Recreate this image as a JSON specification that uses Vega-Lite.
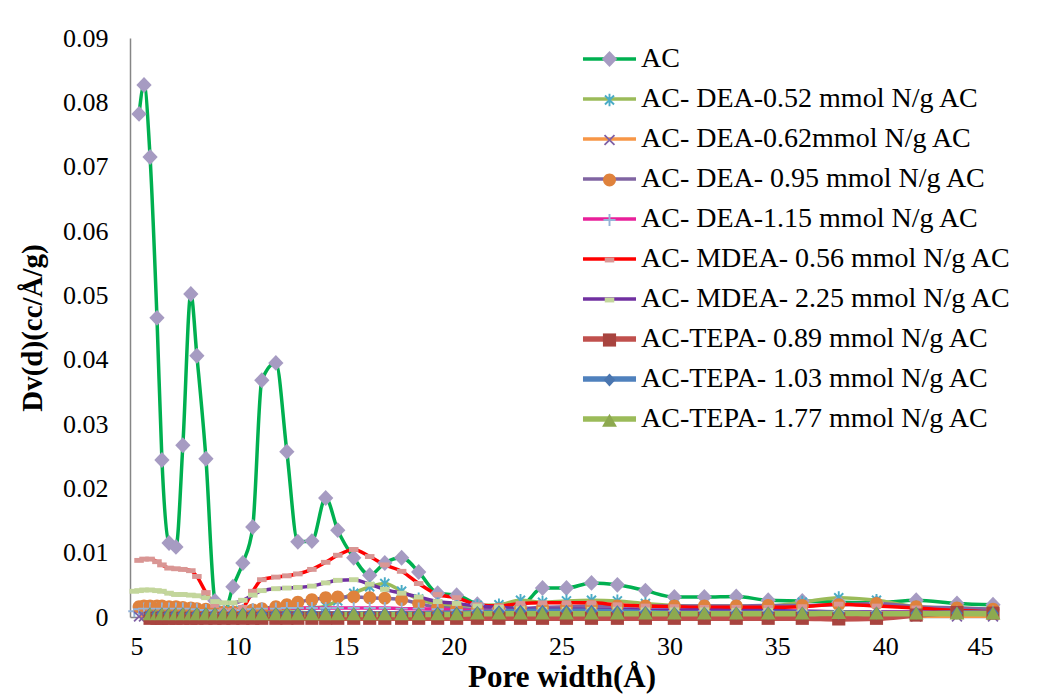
{
  "$schema": "https://vega.github.io/schema/vega-lite/v6.json",
  "width": 863,
  "height": 579,
  "autosize": {"type": "none"},
  "padding": {"left": 130, "top": 38, "right": 44, "bottom": 78},
  "background": "white",
  "config": {"view": {"stroke": null}, "font": "Liberation Serif"},
  "data": {
    "values": [
      {"w": 5.2, "AC": null, "D052": null, "D062": null, "D095": null, "D115": 0.0009, "M056": null, "M225": 0.0040, "T089": null, "T103": null, "T177": null},
      {"w": 5.42, "AC": 0.0782, "D052": 0.0012, "D062": 0.0001, "D095": 0.0016, "D115": 0.0012, "M056": 0.0088, "M225": 0.0041, "T089": null, "T103": null, "T177": null},
      {"w": 5.65, "AC": 0.0827, "D052": 0.0012, "D062": 0.0001, "D095": 0.0017, "D115": 0.0013, "M056": 0.0090, "M225": 0.0042, "T089": null, "T103": null, "T177": null},
      {"w": 5.93, "AC": 0.0715, "D052": 0.0012, "D062": 0.0001, "D095": 0.0017, "D115": 0.0013, "M056": 0.0090, "M225": 0.0042, "T089": -0.0002, "T103": 0.0005, "T177": 0.0004},
      {"w": 6.25, "AC": 0.0465, "D052": 0.0012, "D062": 0.0001, "D095": 0.0017, "D115": 0.0013, "M056": 0.0086, "M225": 0.0041, "T089": -0.0002, "T103": 0.0005, "T177": 0.0004},
      {"w": 6.48, "AC": 0.0244, "D052": 0.0012, "D062": 0.0001, "D095": 0.0017, "D115": 0.0013, "M056": 0.0081, "M225": 0.0040, "T089": -0.0002, "T103": 0.0005, "T177": 0.0004},
      {"w": 6.81, "AC": 0.0115, "D052": 0.0012, "D062": 0.0001, "D095": 0.0016, "D115": 0.0013, "M056": 0.0076, "M225": 0.0037, "T089": -0.0002, "T103": 0.0005, "T177": 0.0004},
      {"w": 7.13, "AC": 0.0109, "D052": 0.0012, "D062": 0.0001, "D095": 0.0016, "D115": 0.0013, "M056": 0.0075, "M225": 0.0035, "T089": -0.0002, "T103": 0.0005, "T177": 0.0004},
      {"w": 7.45, "AC": 0.0267, "D052": 0.0012, "D062": 0.0001, "D095": 0.0015, "D115": 0.0013, "M056": 0.0074, "M225": 0.0035, "T089": -0.0002, "T103": 0.0005, "T177": 0.0004},
      {"w": 7.82, "AC": 0.0502, "D052": 0.0012, "D062": 0.0001, "D095": 0.0014, "D115": 0.0013, "M056": 0.0072, "M225": 0.0034, "T089": -0.0002, "T103": 0.0005, "T177": 0.0004},
      {"w": 8.10, "AC": 0.0406, "D052": 0.0012, "D062": 0.0001, "D095": 0.0013, "D115": 0.0012, "M056": 0.0063, "M225": 0.0033, "T089": -0.0002, "T103": 0.0005, "T177": 0.0004},
      {"w": 8.52, "AC": 0.0246, "D052": 0.0011, "D062": 0.0001, "D095": 0.0012, "D115": 0.0011, "M056": 0.0038, "M225": 0.0030, "T089": -0.0002, "T103": 0.0005, "T177": 0.0004},
      {"w": 8.94, "AC": 0.0025, "D052": 0.0010, "D062": 0.0001, "D095": 0.0010, "D115": 0.0010, "M056": 0.0018, "M225": 0.0024, "T089": -0.0002, "T103": 0.0005, "T177": 0.0004},
      {"w": 9.35, "AC": 0.0006, "D052": 0.0010, "D062": 0.0001, "D095": 0.0008, "D115": 0.0010, "M056": 0.0010, "M225": 0.0022, "T089": -0.0002, "T103": 0.0005, "T177": 0.0004},
      {"w": 9.77, "AC": 0.0047, "D052": 0.0010, "D062": 0.0001, "D095": 0.0008, "D115": 0.0010, "M056": 0.0010, "M225": 0.0022, "T089": -0.0002, "T103": 0.0005, "T177": 0.0004},
      {"w": 10.23, "AC": 0.0084, "D052": 0.0010, "D062": 0.0001, "D095": 0.0009, "D115": 0.0011, "M056": 0.0015, "M225": 0.0026, "T089": -0.0002, "T103": 0.0005, "T177": 0.0004},
      {"w": 10.69, "AC": 0.0140, "D052": 0.0011, "D062": 0.0001, "D095": 0.0011, "D115": 0.0012, "M056": 0.0040, "M225": 0.0034, "T089": -0.0002, "T103": 0.0005, "T177": 0.0004},
      {"w": 11.11, "AC": 0.0368, "D052": 0.0011, "D062": 0.0001, "D095": 0.0013, "D115": 0.0013, "M056": 0.0058, "M225": 0.0041, "T089": -0.0002, "T103": 0.0005, "T177": 0.0004},
      {"w": 11.76, "AC": 0.0395, "D052": 0.0012, "D062": 0.0001, "D095": 0.0016, "D115": 0.0013, "M056": 0.0062, "M225": 0.0044, "T089": -0.0002, "T103": 0.0005, "T177": 0.0004},
      {"w": 12.27, "AC": 0.0257, "D052": 0.0012, "D062": 0.0001, "D095": 0.0019, "D115": 0.0014, "M056": 0.0064, "M225": 0.0045, "T089": -0.0002, "T103": 0.0005, "T177": 0.0004},
      {"w": 12.78, "AC": 0.0117, "D052": 0.0013, "D062": 0.0001, "D095": 0.0023, "D115": 0.0014, "M056": 0.0067, "M225": 0.0046, "T089": -0.0002, "T103": 0.0005, "T177": 0.0004},
      {"w": 13.43, "AC": 0.0118, "D052": 0.0014, "D062": 0.0001, "D095": 0.0027, "D115": 0.0014, "M056": 0.0074, "M225": 0.0048, "T089": -0.0002, "T103": 0.0005, "T177": 0.0004},
      {"w": 14.07, "AC": 0.0185, "D052": 0.0017, "D062": 0.0001, "D095": 0.0030, "D115": 0.0014, "M056": 0.0085, "M225": 0.0053, "T089": -0.0002, "T103": 0.0005, "T177": 0.0004},
      {"w": 14.63, "AC": 0.0135, "D052": 0.0025, "D062": 0.0001, "D095": 0.0031, "D115": 0.0014, "M056": 0.0096, "M225": 0.0057, "T089": -0.0002, "T103": 0.0005, "T177": 0.0004},
      {"w": 15.37, "AC": 0.0092, "D052": 0.0037, "D062": 0.0001, "D095": 0.0031, "D115": 0.0014, "M056": 0.0105, "M225": 0.0058, "T089": -0.0002, "T103": 0.0005, "T177": 0.0004},
      {"w": 16.11, "AC": 0.0065, "D052": 0.0047, "D062": 0.0001, "D095": 0.0030, "D115": 0.0014, "M056": 0.0094, "M225": 0.0051, "T089": -0.0002, "T103": 0.0005, "T177": 0.0004},
      {"w": 16.81, "AC": 0.0084, "D052": 0.0052, "D062": 0.0001, "D095": 0.0029, "D115": 0.0014, "M056": 0.0081, "M225": 0.0043, "T089": -0.0002, "T103": 0.0005, "T177": 0.0004},
      {"w": 17.59, "AC": 0.0092, "D052": 0.0040, "D062": 0.0001, "D095": 0.0027, "D115": 0.0013, "M056": 0.0071, "M225": 0.0037, "T089": -0.0002, "T103": 0.0005, "T177": 0.0004},
      {"w": 18.38, "AC": 0.0070, "D052": 0.0028, "D062": 0.0001, "D095": 0.0021, "D115": 0.0013, "M056": 0.0052, "M225": 0.0031, "T089": -0.0002, "T103": 0.0005, "T177": 0.0004},
      {"w": 19.26, "AC": 0.0037, "D052": 0.0020, "D062": 0.0001, "D095": 0.0015, "D115": 0.0012, "M056": 0.0035, "M225": 0.0024, "T089": -0.0002, "T103": 0.0006, "T177": 0.0004},
      {"w": 20.14, "AC": 0.0034, "D052": 0.0017, "D062": 0.0001, "D095": 0.0013, "D115": 0.0011, "M056": 0.0030, "M225": 0.0021, "T089": -0.0002, "T103": 0.0006, "T177": 0.0004},
      {"w": 21.1, "AC": 0.0020, "D052": 0.0018, "D062": 0.0001, "D095": 0.0012, "D115": 0.0010, "M056": 0.0019, "M225": 0.0017, "T089": -0.0002, "T103": 0.0007, "T177": 0.0005},
      {"w": 22.1, "AC": 0.0013, "D052": 0.0019, "D062": 0.0001, "D095": 0.0012, "D115": 0.0010, "M056": 0.0017, "M225": 0.0015, "T089": -0.0002, "T103": 0.0008, "T177": 0.0005},
      {"w": 23.1, "AC": 0.0016, "D052": 0.0026, "D062": 0.0001, "D095": 0.0013, "D115": 0.0010, "M056": 0.0021, "M225": 0.0013, "T089": -0.0002, "T103": 0.0009, "T177": 0.0005},
      {"w": 24.12, "AC": 0.0045, "D052": 0.0023, "D062": 0.0001, "D095": 0.0015, "D115": 0.0010, "M056": 0.0022, "M225": 0.0012, "T089": -0.0002, "T103": 0.0009, "T177": 0.0005},
      {"w": 25.23, "AC": 0.0045, "D052": 0.0025, "D062": 0.0001, "D095": 0.0016, "D115": 0.0010, "M056": 0.0022, "M225": 0.0012, "T089": -0.0002, "T103": 0.0009, "T177": 0.0005},
      {"w": 26.39, "AC": 0.0053, "D052": 0.0026, "D062": 0.0001, "D095": 0.0017, "D115": 0.0010, "M056": 0.0022, "M225": 0.0012, "T089": -0.0002, "T103": 0.0009, "T177": 0.0005},
      {"w": 27.59, "AC": 0.0050, "D052": 0.0025, "D062": 0.0001, "D095": 0.0017, "D115": 0.0009, "M056": 0.0019, "M225": 0.0012, "T089": -0.0002, "T103": 0.0008, "T177": 0.0005},
      {"w": 28.89, "AC": 0.0041, "D052": 0.0021, "D062": 0.0001, "D095": 0.0017, "D115": 0.0009, "M056": 0.0017, "M225": 0.0011, "T089": -0.0002, "T103": 0.0007, "T177": 0.0005},
      {"w": 30.23, "AC": 0.0031, "D052": 0.0018, "D062": 0.0001, "D095": 0.0017, "D115": 0.0009, "M056": 0.0016, "M225": 0.0011, "T089": -0.0002, "T103": 0.0006, "T177": 0.0005},
      {"w": 31.62, "AC": 0.0031, "D052": 0.0017, "D062": 0.0001, "D095": 0.0017, "D115": 0.0009, "M056": 0.0015, "M225": 0.0011, "T089": -0.0002, "T103": 0.0006, "T177": 0.0005},
      {"w": 33.1, "AC": 0.0032, "D052": 0.0017, "D062": 0.0001, "D095": 0.0017, "D115": 0.0009, "M056": 0.0015, "M225": 0.0010, "T089": -0.0002, "T103": 0.0006, "T177": 0.0005},
      {"w": 34.58, "AC": 0.0026, "D052": 0.0017, "D062": 0.0001, "D095": 0.0018, "D115": 0.0009, "M056": 0.0015, "M225": 0.0010, "T089": -0.0002, "T103": 0.0006, "T177": 0.0005},
      {"w": 36.16, "AC": 0.0025, "D052": 0.0023, "D062": 0.0001, "D095": 0.0018, "D115": 0.0009, "M056": 0.0016, "M225": 0.0009, "T089": -0.0002, "T103": 0.0006, "T177": 0.0005},
      {"w": 37.85, "AC": 0.0023, "D052": 0.0030, "D062": 0.0001, "D095": 0.0019, "D115": 0.0008, "M056": 0.0020, "M225": 0.0008, "T089": -0.0003, "T103": 0.0006, "T177": 0.0006},
      {"w": 39.6, "AC": 0.0022, "D052": 0.0026, "D062": 0.0001, "D095": 0.0021, "D115": 0.0008, "M056": 0.0017, "M225": 0.0007, "T089": -0.0002, "T103": 0.0006, "T177": 0.0005},
      {"w": 41.44, "AC": 0.0026, "D052": 0.0016, "D062": 0.0001, "D095": 0.0016, "D115": 0.0008, "M056": 0.0014, "M225": 0.0006, "T089": 0.0003, "T103": 0.0006, "T177": 0.0005},
      {"w": 43.33, "AC": 0.0021, "D052": 0.0014, "D062": 0.0001, "D095": 0.0014, "D115": 0.0008, "M056": 0.0010, "M225": 0.0005, "T089": 0.0007, "T103": 0.0006, "T177": 0.0005},
      {"w": 45.0, "AC": 0.0019, "D052": 0.0012, "D062": 0.0001, "D095": 0.0012, "D115": 0.0008, "M056": 0.0008, "M225": 0.0004, "T089": 0.0006, "T103": 0.0006, "T177": 0.0005}
    ]
  },
  "transform": [
    {"fold": ["AC", "D052", "D062", "D095", "D115", "M056", "M225", "T089", "T103", "T177"], "as": ["series", "v"]}
  ],
  "encoding": {
    "x": {
      "field": "w", "type": "quantitative",
      "scale": {"domain": [5, 45], "nice": false, "zero": false},
      "axis": {
        "title": "Pore width(Å)", "values": [5, 10, 15, 20, 25, 30, 35, 40, 45], "format": "d",
        "ticks": false, "grid": false, "domainColor": "#868686", "domainWidth": 1.5,
        "labelFont": "Liberation Serif", "labelFontSize": 26, "labelColor": "#000000", "labelPadding": 16,
        "titleFont": "Liberation Serif", "titleFontSize": 31, "titleFontWeight": "bold", "titleColor": "#000000", "titlePadding": 3
      }
    },
    "y": {
      "field": "v", "type": "quantitative",
      "scale": {"domain": [0, 0.09], "nice": false},
      "axis": {
        "title": "Dv(d)(cc/Å/g)", "values": [0, 0.01, 0.02, 0.03, 0.04, 0.05, 0.06, 0.07, 0.08, 0.09], "format": ".2~f",
        "ticks": false, "grid": false, "domainColor": "#868686", "domainWidth": 1.5,
        "labelFont": "Liberation Serif", "labelFontSize": 26, "labelColor": "#000000", "labelPadding": 22,
        "titleFont": "Liberation Serif", "titleFontSize": 29, "titleFontWeight": "bold", "titleColor": "#000000", "titlePadding": 15
      }
    }
  },
  "layer": [
    {
      "transform": [{"filter": {"field": "series", "oneOf": ["AC", "D052", "D062", "D095", "D115", "M056", "M225"]}}],
      "mark": {"type": "line", "interpolate": "monotone", "strokeWidth": 3.5},
      "encoding": {
        "stroke": {
          "field": "series", "type": "nominal",
          "scale": {
            "domain": ["AC", "D052", "D062", "D095", "D115", "M056", "M225", "T089", "T103", "T177"],
            "range": ["#00B050", "#9BBB59", "#F79646", "#8064A2", "#E8209A", "#FF0000", "#7030A0", "#C0504D", "#4F81BD", "#9BBB59"]
          },
          "legend": {
            "title": null, "orient": "none", "legendX": 465.5, "legendY": 7, "padding": 0,
            "rowPadding": 12, "symbolType": "M-2.5,0L2.5,0", "symbolSize": 450, "symbolStrokeWidth": 3.5,
            "labelFont": "Liberation Serif", "labelFontSize": 28, "labelColor": "#000000", "labelOffset": 17.5, "labelLimit": 600,
            "labelExpr": "datum.label=='AC'?'AC':datum.label=='D052'?'AC- DEA-0.52 mmol N/g AC':datum.label=='D062'?'AC- DEA-0.62mmol N/g AC':datum.label=='D095'?'AC- DEA- 0.95 mmol N/g AC':datum.label=='D115'?'AC- DEA-1.15 mmol N/g AC':datum.label=='M056'?'AC- MDEA- 0.56 mmol N/g AC':datum.label=='M225'?'AC- MDEA- 2.25 mmol N/g AC':datum.label=='T089'?'AC-TEPA- 0.89 mmol N/g AC':datum.label=='T103'?'AC-TEPA- 1.03 mmol N/g AC':'AC-TEPA- 1.77 mmol N/g AC'",
            "encode": {"symbols": {"update": {"strokeWidth": {"signal": "indexof(['T089','T103','T177'], datum.value) >= 0 ? 5.5 : 3.5"}}}}
          }
        }
      }
    },
    {
      "transform": [{"filter": {"field": "series", "oneOf": ["T089", "T103", "T177"]}}],
      "mark": {"type": "line", "interpolate": "monotone", "strokeWidth": 5.5},
      "encoding": {
        "stroke": {"field": "series", "type": "nominal"}
      }
    },
    {
      "mark": {"type": "point", "filled": true, "size": 450, "opacity": 1, "strokeWidth": 0},
      "encoding": {
        "fill": {
          "field": "series", "type": "nominal",
          "scale": {"range": ["#A69BC2", "#4BACC6", "#7F60A5", "#DF823C", "#95B3D7", "#D99694", "#C3D69B", "#A8443F", "#4A76B0", "#8DA94F"]},
          "legend": {
            "title": null, "orient": "none", "legendX": 465.5, "legendY": 7, "padding": 0,
            "rowPadding": 12, "symbolSize": 450, "symbolStrokeWidth": 3.5, "symbolStrokeColor": "transparent",
            "labelFont": "Liberation Serif", "labelFontSize": 28, "labelExpr": "''", "labelOffset": 17.5
          }
        },
        "shape": {
          "field": "series", "type": "nominal",
          "scale": {
            "range": [
              "M0,-0.75L0.72,0L0,0.75L-0.72,0Z",
              "M-0.09,-0.6L0.09,-0.6L0.09,0.6L-0.09,0.6Z M0.36,0.49L-0.49,-0.36L-0.36,-0.49L0.49,0.36Z M0.49,-0.36L-0.36,0.49L-0.49,0.36L0.36,-0.49Z",
              "M0.41,0.53L-0.53,-0.41L-0.41,-0.53L0.53,0.41Z M0.53,-0.41L-0.41,0.53L-0.53,0.41L0.41,-0.53Z",
              "M-0.61,0A0.61,0.61 0 1,0 0.61,0A0.61,0.61 0 1,0 -0.61,0Z",
              "M-0.57,-0.09L0.57,-0.09L0.57,0.09L-0.57,0.09Z M-0.09,-0.57L0.09,-0.57L0.09,0.57L-0.09,0.57Z",
              "M-0.45,-0.23L0.45,-0.23L0.45,0.23L-0.45,0.23Z",
              "M-0.45,-0.23L0.45,-0.23L0.45,0.23L-0.45,0.23Z",
              "M-0.62,-0.62L0.62,-0.62L0.62,0.62L-0.62,0.62Z",
              "M0,-0.62L0.55,0L0,0.62L-0.55,0Z",
              "M0,-0.68L0.7,0.55L-0.7,0.55Z"
            ]
          },
          "legend": {
            "title": null, "orient": "none", "legendX": 465.5, "legendY": 7, "padding": 0,
            "rowPadding": 12, "symbolSize": 450, "symbolStrokeWidth": 3.5, "symbolStrokeColor": "transparent",
            "labelFont": "Liberation Serif", "labelFontSize": 28, "labelExpr": "''", "labelOffset": 17.5
          }
        }
      }
    }
  ]
}
